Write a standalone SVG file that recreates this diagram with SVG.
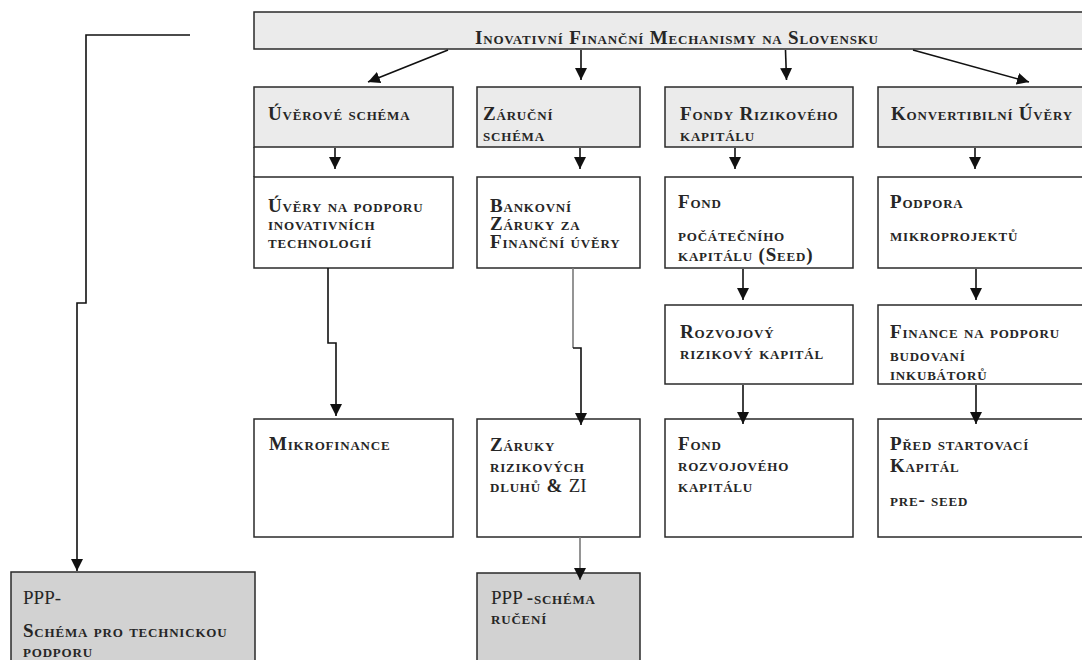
<svg xmlns="http://www.w3.org/2000/svg" width="1082" height="660" viewBox="0 0 1082 660">
<style>
text{font-family:"Liberation Serif","Times New Roman",serif;font-size:19px;font-weight:bold;letter-spacing:0.8px;font-variant:small-caps;fill:#262626}
text.n,tspan.n{font-weight:normal;letter-spacing:0}
.hdr{fill:#ebebeb;stroke:#2a2a2a;stroke-width:1.5}
.box{fill:#ffffff;stroke:#2a2a2a;stroke-width:1.5}
.ppp{fill:#d2d2d2;stroke:#2a2a2a;stroke-width:1.5}
.c{fill:none;stroke:#111;stroke-width:1.6}
.g{fill:none;stroke:#7a7a7a;stroke-width:1.6}
</style>
<defs>
<marker id="ah" markerUnits="userSpaceOnUse" markerWidth="12" markerHeight="12" viewBox="0 0 12 12" refX="12" refY="6" orient="auto">
<path d="M0,0 L12,6 L0,12 Z" fill="#111"/>
</marker>
</defs>
<g id="title">
<rect class="hdr" x="254" y="12" width="840" height="37"/>
<text x="475" y="44">Inovativní Finanční Mechanismy na Slovensku</text>
</g>
<g id="h1">
<rect class="hdr" x="254" y="87" width="199" height="60"/>
<line x1="254" y1="147" x2="254" y2="177" stroke="#2a2a2a" stroke-width="1.5"/>
<text x="268" y="120">Úvěrové schéma</text>
</g>
<g id="h2">
<rect class="hdr" x="477" y="87" width="163" height="60"/>
<text x="483" y="120">Záruční</text>
<text x="483" y="141">schéma</text>
</g>
<g id="h3">
<rect class="hdr" x="665" y="87" width="188" height="60"/>
<text x="680" y="120">Fondy Rizikového</text>
<text x="680" y="141">kapitálu</text>
</g>
<g id="h4">
<rect class="hdr" x="878" y="87" width="220" height="60"/>
<text x="891" y="120">Konvertibilní Úvěry</text>
</g>
<g id="b11">
<rect class="box" x="254" y="177" width="199" height="91"/>
<text x="268" y="212">Úvěry na podporu</text>
<text x="268" y="230">inovativních</text>
<text x="268" y="248">technologií</text>
</g>
<g id="b12">
<rect class="box" x="477" y="177" width="163" height="91"/>
<text x="490" y="212">Bankovní</text>
<text x="490" y="230">Záruky za</text>
<text x="490" y="248">Finanční úvěry</text>
</g>
<g id="b13">
<rect class="box" x="665" y="177" width="188" height="91"/>
<text x="678" y="208">Fond</text>
<text x="678" y="241">počátečního</text>
<text x="678" y="261">kapitálu (Seed)</text>
</g>
<g id="b14">
<rect class="box" x="878" y="177" width="220" height="91"/>
<text x="890" y="208">Podpora</text>
<text x="890" y="241">mikroprojektů</text>
</g>
<g id="b23">
<rect class="box" x="665" y="305" width="188" height="79"/>
<text x="680" y="338">Rozvojový</text>
<text x="680" y="359">rizikový kapitál</text>
</g>
<g id="b24">
<rect class="box" x="878" y="305" width="220" height="79"/>
<text x="890" y="338">Finance na podporu</text>
<text x="890" y="361">budovaní</text>
<text x="890" y="380">inkubátorů</text>
</g>
<g id="b31">
<rect class="box" x="254" y="419" width="199" height="118"/>
<text x="269" y="450">Mikrofinance</text>
</g>
<g id="b32">
<rect class="box" x="477" y="419" width="163" height="118"/>
<text x="490" y="451">Záruky</text>
<text x="490" y="472">rizikových</text>
<text x="490" y="492">dluhů &amp; <tspan class="n">ZI</tspan></text>
</g>
<g id="b33">
<rect class="box" x="665" y="419" width="188" height="118"/>
<text x="678" y="450">Fond</text>
<text x="678" y="471">rozvojového</text>
<text x="678" y="492">kapitálu</text>
</g>
<g id="b34">
<rect class="box" x="878" y="419" width="220" height="118"/>
<text x="890" y="450">Před startovací</text>
<text x="890" y="472">Kapitál</text>
<text x="890" y="506">pre- seed</text>
</g>
<g id="p1">
<rect class="ppp" x="11" y="572" width="244" height="100"/>
<text class="n" x="23" y="604">PPP-</text>
<text x="23" y="637">Schéma pro technickou</text>
<text x="23" y="657">podporu</text>
</g>
<g id="p2">
<rect class="ppp" x="477" y="573" width="163" height="100"/>
<text x="491" y="604"><tspan class="n">PPP </tspan>-schéma</text>
<text x="491" y="624">ručení</text>
</g>
<g id="connectors">
<line class="c" x1="448" y1="50" x2="368" y2="82" marker-end="url(#ah)"/>
<line class="c" x1="581" y1="50" x2="581" y2="80" marker-end="url(#ah)"/>
<line class="c" x1="785.5" y1="50" x2="786.5" y2="80" marker-end="url(#ah)"/>
<line class="c" x1="913" y1="50" x2="1029" y2="82" marker-end="url(#ah)"/>
<line class="c" x1="335" y1="148" x2="335" y2="169" marker-end="url(#ah)"/>
<line class="c" x1="580" y1="148" x2="580" y2="169" marker-end="url(#ah)"/>
<line class="c" x1="735" y1="148" x2="735" y2="169" marker-end="url(#ah)"/>
<line class="c" x1="975" y1="148" x2="975" y2="169" marker-end="url(#ah)"/>
<line class="c" x1="743" y1="269" x2="743" y2="300" marker-end="url(#ah)"/>
<line class="c" x1="976" y1="269" x2="976" y2="300" marker-end="url(#ah)"/>
<line class="c" x1="743" y1="385" x2="743" y2="424" marker-end="url(#ah)"/>
<line class="c" x1="976" y1="385" x2="976" y2="424" marker-end="url(#ah)"/>
<polyline class="c" points="328,268 328,343 336,343 336,416" marker-end="url(#ah)"/>
<polyline class="g" points="573,268 573,348"/>
<polyline class="c" points="573,348 581,348 581,425" marker-end="url(#ah)"/>
<line class="g" x1="580" y1="537" x2="580" y2="580" marker-end="url(#ah)"/>
<polyline class="c" points="190,35 86,35 86,303 77,303 77,571" marker-end="url(#ah)"/>
</g>
</svg>
